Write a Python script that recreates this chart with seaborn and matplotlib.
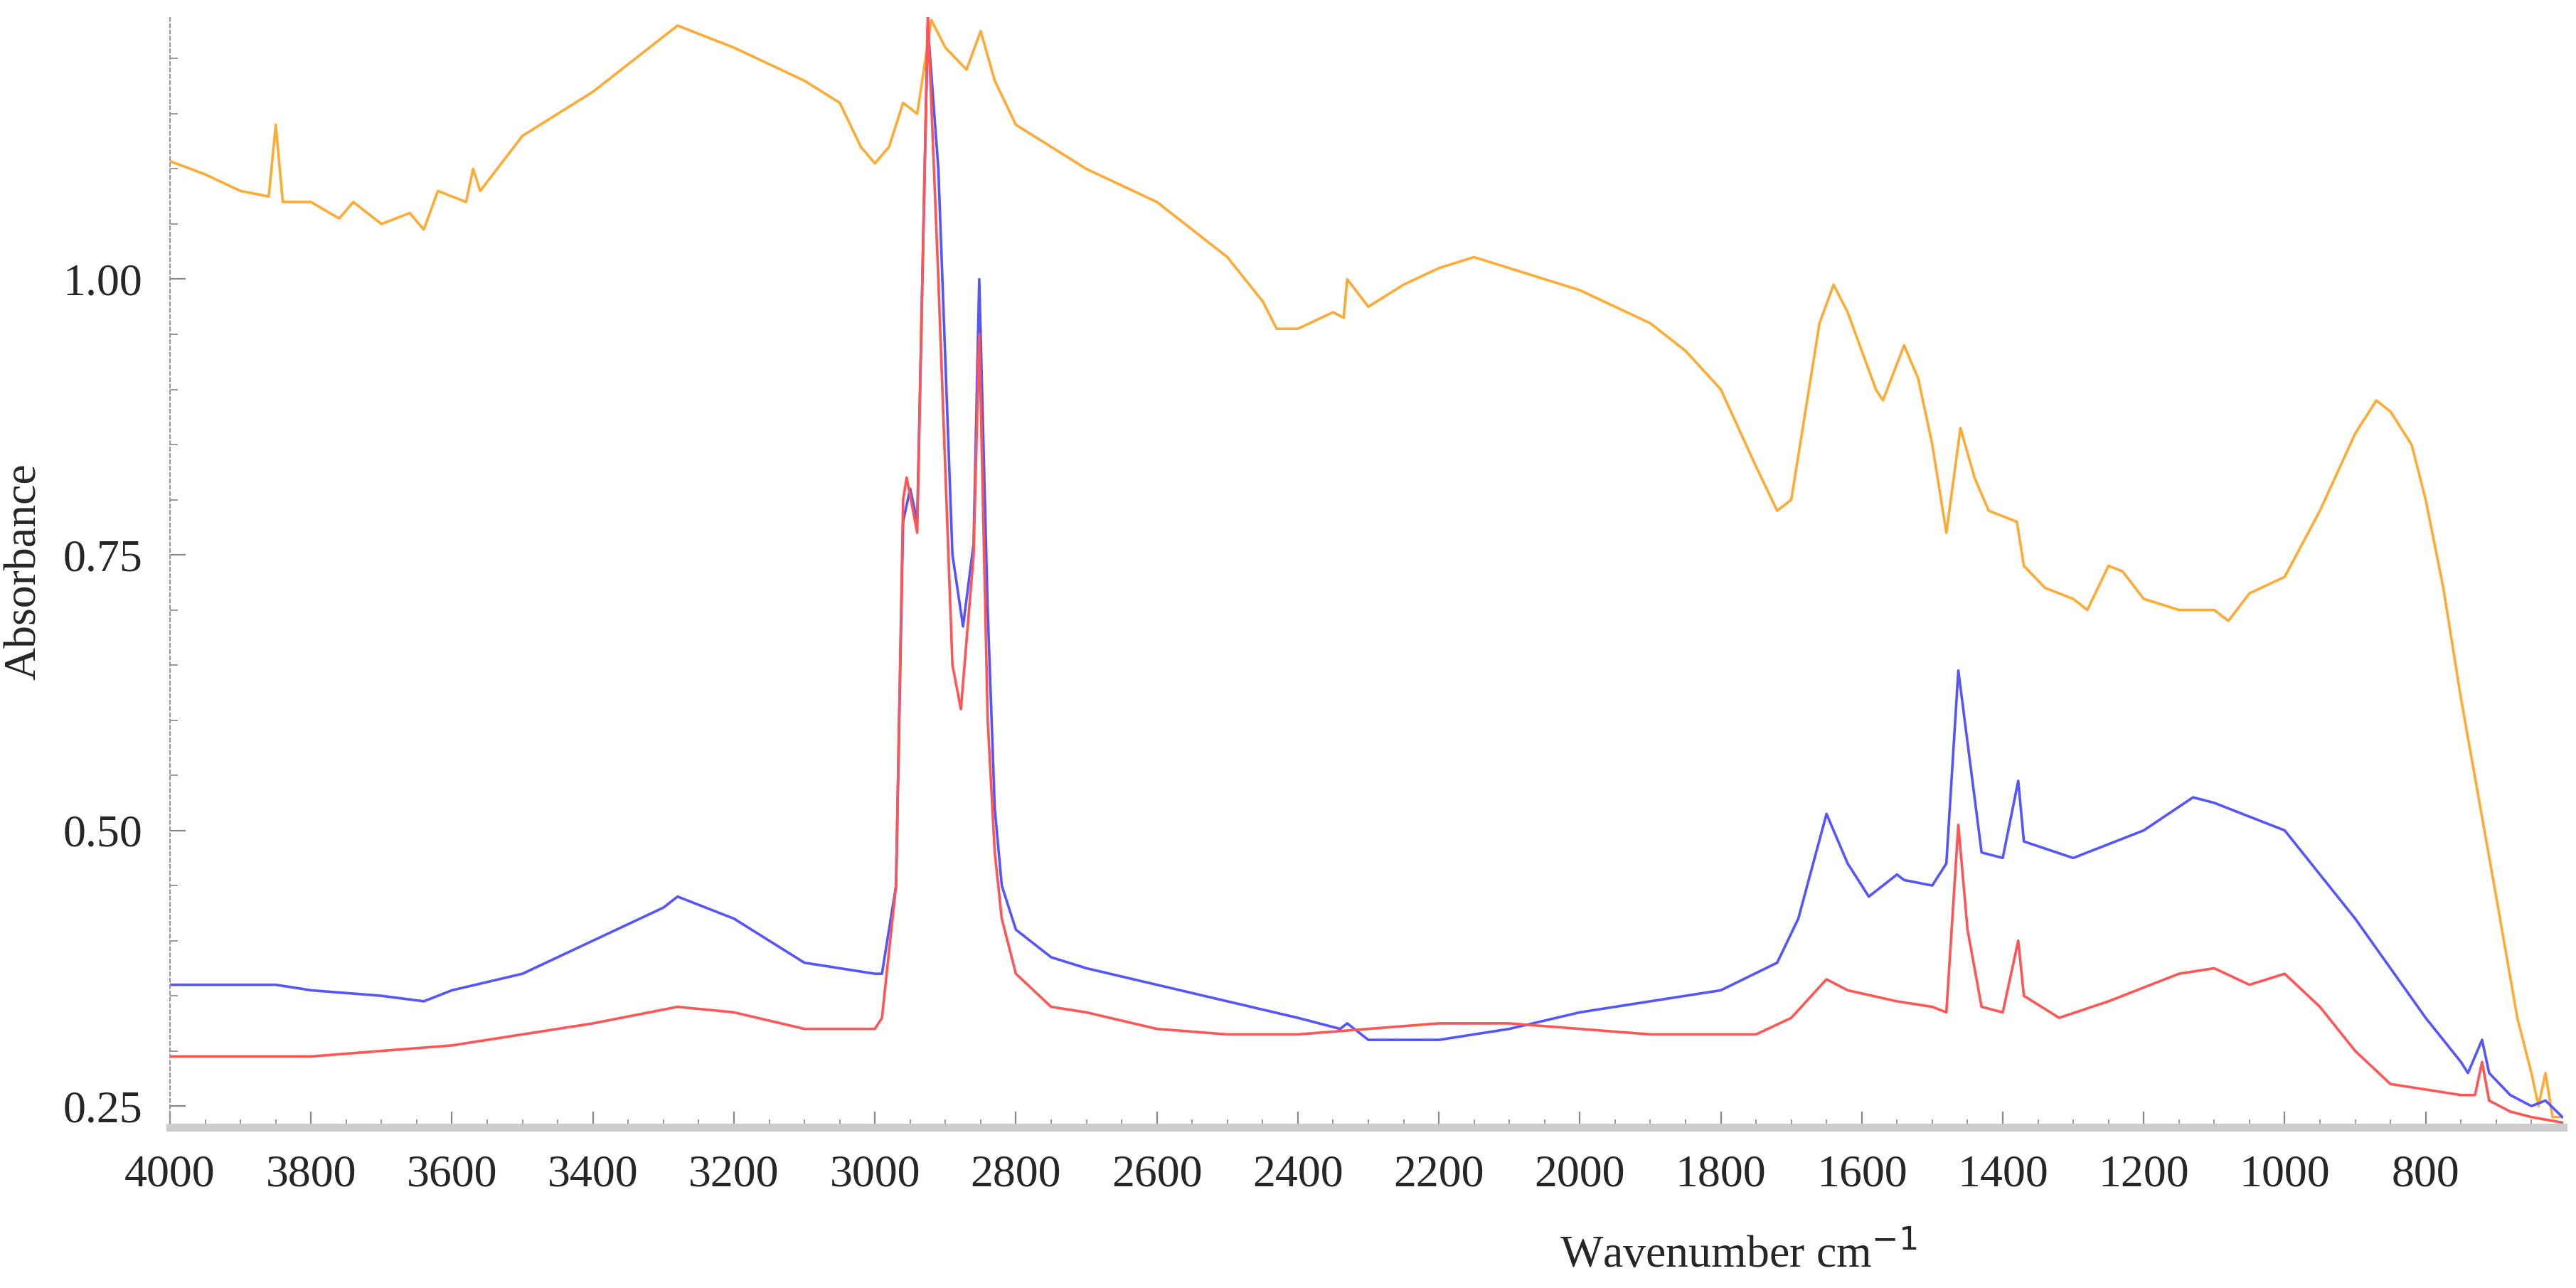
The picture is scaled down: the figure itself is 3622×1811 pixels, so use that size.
import pandas as pd
import matplotlib
matplotlib.use("Agg")
import matplotlib.pyplot as plt
import seaborn as sns
from matplotlib.ticker import MultipleLocator

# wavenumber (cm-1) / absorbance
wn_orange = [4000, 3950, 3900, 3860, 3850, 3840, 3800, 3760, 3740, 3700, 3660, 3640,
             3620, 3580, 3570, 3560, 3500, 3400, 3300, 3280, 3200, 3100, 3050, 3020, 3000,
             2980, 2960, 2940, 2920, 2900, 2870, 2850, 2830, 2800, 2750, 2700, 2600, 2500,
             2450, 2430, 2400, 2350, 2335, 2330, 2300, 2250, 2200, 2150, 2100, 2000, 1900,
             1850, 1800, 1750, 1720, 1700, 1680, 1660, 1640, 1620, 1580, 1570, 1540, 1520,
             1500, 1480, 1460, 1440, 1420, 1400, 1380, 1370, 1340, 1300, 1280, 1250, 1230,
             1200, 1150, 1100, 1080, 1050, 1000, 950, 900, 870, 850, 820, 800, 775, 750,
             700, 670, 650, 640, 630, 620, 606]
ab_orange = [1.107, 1.095, 1.08, 1.075, 1.14, 1.07, 1.07, 1.055, 1.07, 1.05, 1.06, 1.045,
             1.08, 1.07, 1.10, 1.08, 1.13, 1.17, 1.22, 1.23, 1.21, 1.18, 1.16, 1.12, 1.105,
             1.12, 1.16, 1.15, 1.235, 1.21, 1.19, 1.225, 1.18, 1.14, 1.12, 1.10, 1.07, 1.02,
             0.98, 0.955, 0.955, 0.97, 0.965, 1.0, 0.975, 0.995, 1.01, 1.02, 1.01, 0.99, 0.96,
             0.935, 0.90, 0.83, 0.79, 0.80, 0.88, 0.96, 0.995, 0.97, 0.90, 0.89, 0.94, 0.91,
             0.85, 0.77, 0.865, 0.82, 0.79, 0.785, 0.78, 0.74, 0.72, 0.71, 0.70, 0.74, 0.735,
             0.71, 0.70, 0.70, 0.69, 0.715, 0.73, 0.79, 0.86, 0.89, 0.88, 0.85, 0.80, 0.72, 0.62,
             0.44, 0.33, 0.28, 0.25, 0.28, 0.24, 0.24]

wn_blue = [4000, 3850, 3800, 3700, 3640, 3600, 3500, 3400, 3300, 3280, 3200, 3100, 3000,
           2990, 2970, 2960, 2950, 2940, 2925, 2910, 2890, 2875, 2860, 2852, 2840, 2830,
           2820, 2800, 2750, 2700, 2600, 2500, 2400, 2340, 2330, 2300, 2200, 2100, 2000,
           1900, 1800, 1720, 1690, 1650, 1620, 1590, 1550, 1540, 1500, 1480, 1463, 1450,
           1430, 1400, 1378, 1370, 1300, 1200, 1130, 1100, 1000, 950, 900, 800, 750, 740,
           720, 710, 680, 650, 630, 606]
ab_blue = [0.36, 0.36, 0.355, 0.35, 0.345, 0.355, 0.37, 0.40, 0.43, 0.44, 0.42, 0.38, 0.37,
           0.37, 0.45, 0.78, 0.81, 0.78, 1.23, 1.10, 0.75, 0.685, 0.76, 1.00, 0.70, 0.52,
           0.45, 0.41, 0.385, 0.375, 0.36, 0.345, 0.33, 0.32, 0.325, 0.31, 0.31, 0.32, 0.335,
           0.345, 0.355, 0.38, 0.42, 0.515, 0.47, 0.44, 0.46, 0.455, 0.45, 0.47, 0.645, 0.58,
           0.48, 0.475, 0.545, 0.49, 0.475, 0.50, 0.53, 0.525, 0.50, 0.46, 0.42, 0.33, 0.29,
           0.28, 0.31, 0.28, 0.26, 0.25, 0.255, 0.24]

wn_red = [4000, 3800, 3600, 3400, 3280, 3200, 3100, 3000, 2990, 2970, 2960, 2955, 2940,
          2925, 2910, 2890, 2878, 2860, 2852, 2840, 2830, 2820, 2800, 2750, 2700, 2600,
          2500, 2400, 2200, 2100, 2000, 1900, 1750, 1700, 1650, 1620, 1550, 1500, 1480,
          1463, 1450, 1430, 1400, 1378, 1370, 1320, 1250, 1150, 1100, 1050, 1000, 950, 900,
          850, 800, 750, 730, 720, 710, 680, 650, 606]
ab_red = [0.295, 0.295, 0.305, 0.325, 0.34, 0.335, 0.32, 0.32, 0.33, 0.45, 0.80, 0.82, 0.77,
          1.24, 1.00, 0.65, 0.61, 0.75, 0.95, 0.60, 0.48, 0.42, 0.37, 0.34, 0.335, 0.32,
          0.315, 0.315, 0.325, 0.325, 0.32, 0.315, 0.315, 0.33, 0.365, 0.355, 0.345, 0.34,
          0.335, 0.505, 0.41, 0.34, 0.335, 0.40, 0.35, 0.33, 0.345, 0.37, 0.375, 0.36, 0.37,
          0.34, 0.30, 0.27, 0.265, 0.26, 0.26, 0.29, 0.255, 0.245, 0.24, 0.235]

x_ticks = [4000, 3800, 3600, 3400, 3200, 3000, 2800, 2600, 2400, 2200, 2000, 1800,
           1600, 1400, 1200, 1000, 800]
y_ticks = [0.25, 0.50, 0.75, 1.00]

sns.set_style("white")
plt.rcParams['font.family'] = ['Liberation Serif', 'DejaVu Serif']

fig = plt.figure(figsize=(18.11, 9.055), dpi=200)
ax = fig.add_axes([0.066, 0.125, 0.929, 0.862])

sns.lineplot(x=wn_orange, y=ab_orange, color='#ffaa33', lw=1.3, ax=ax, sort=False)
sns.lineplot(x=wn_blue, y=ab_blue, color='#5555ff', lw=1.3, ax=ax, sort=False)
sns.lineplot(x=wn_red, y=ab_red, color='#ff5555', lw=1.3, ax=ax, sort=False)

ax.set_xlim(4000, 605)
ax.set_ylim(0.231, 1.238)
ax.set_xticks(x_ticks)
ax.set_xticklabels([str(t) for t in x_ticks])
ax.set_yticks(y_ticks)
ax.set_yticklabels([f"{t:.2f}" for t in y_ticks])
ax.xaxis.set_minor_locator(MultipleLocator(50))
ax.yaxis.set_minor_locator(MultipleLocator(0.05))

for side in ['top', 'right']:
    ax.spines[side].set_visible(False)
ax.spines['left'].set_color('#999999')
ax.spines['left'].set_linestyle((0, (2, 2)))
ax.spines['bottom'].set_color('#cccccc')
ax.spines['bottom'].set_linewidth(4)
ax.tick_params(axis='both', which='both', direction='in', color='#888888',
               labelsize=23, pad=14, bottom=True, left=True)
ax.tick_params(which='major', length=8)
ax.tick_params(which='minor', length=4)

ax.set_xlabel('Wavenumber cm$^{-1}$', fontsize=23, loc='right', labelpad=6)
ax.xaxis.set_label_coords(0.73, -0.095)
ax.set_ylabel('Absorbance', fontsize=23)
ax.yaxis.set_label_coords(-0.052, 0.5)

fig.savefig('out.png', dpi=200)
